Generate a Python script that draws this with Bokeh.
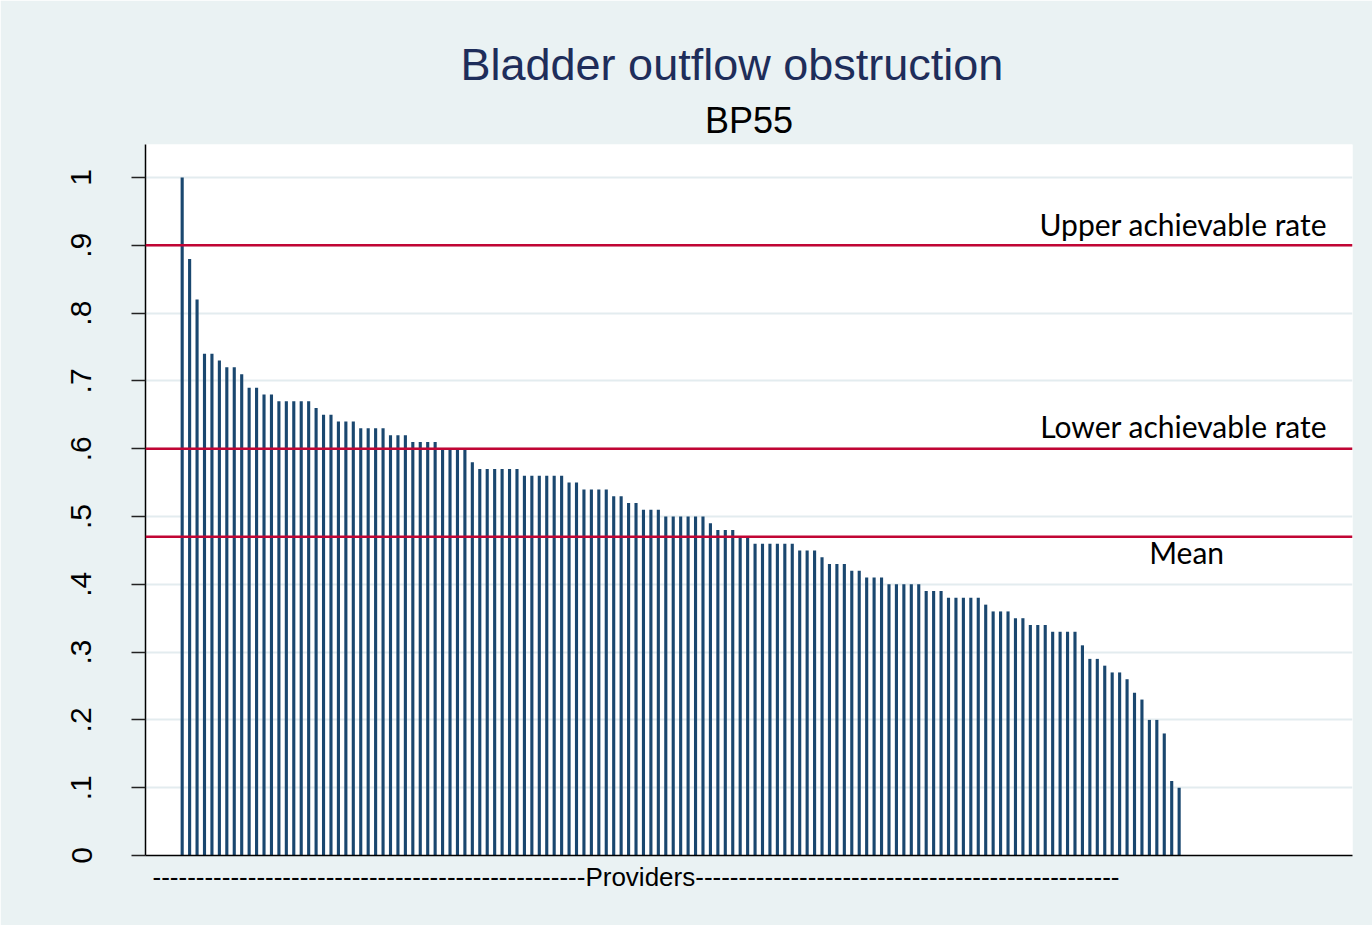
from bokeh.plotting import figure
from bokeh.models import Range1d, FixedTicker, Span, Label, Title
from bokeh.embed import file_html
from bokeh.resources import INLINE

# ---------------- data ----------------
title_text = "Bladder outflow obstruction"
subtitle_text = "BP55"
rates = [
    1.00, 0.88, 0.82, 0.74, 0.74, 0.73, 0.72, 0.72, 0.71, 0.69,
    0.69, 0.68, 0.68, 0.67, 0.67, 0.67, 0.67, 0.67, 0.66, 0.65,
    0.65, 0.64, 0.64, 0.64, 0.63, 0.63, 0.63, 0.63, 0.62, 0.62,
    0.62, 0.61, 0.61, 0.61, 0.61, 0.60, 0.60, 0.60, 0.60, 0.58,
    0.57, 0.57, 0.57, 0.57, 0.57, 0.57, 0.56, 0.56, 0.56, 0.56,
    0.56, 0.56, 0.55, 0.55, 0.54, 0.54, 0.54, 0.54, 0.53, 0.53,
    0.52, 0.52, 0.51, 0.51, 0.51, 0.50, 0.50, 0.50, 0.50, 0.50,
    0.50, 0.49, 0.48, 0.48, 0.48, 0.47, 0.47, 0.46, 0.46, 0.46,
    0.46, 0.46, 0.46, 0.45, 0.45, 0.45, 0.44, 0.43, 0.43, 0.43,
    0.42, 0.42, 0.41, 0.41, 0.41, 0.40, 0.40, 0.40, 0.40, 0.40,
    0.39, 0.39, 0.39, 0.38, 0.38, 0.38, 0.38, 0.38, 0.37, 0.36,
    0.36, 0.36, 0.35, 0.35, 0.34, 0.34, 0.34, 0.33, 0.33, 0.33,
    0.33, 0.31, 0.29, 0.29, 0.28, 0.27, 0.27, 0.26, 0.24, 0.23,
    0.20, 0.20, 0.18, 0.11, 0.10,
]
providers = list(range(1, len(rates) + 1))
y_ticks = [0.0, 0.1, 0.2, 0.3, 0.4, 0.5, 0.6, 0.7, 0.8, 0.9, 1.0]
y_tick_labels = ["0", ".1", ".2", ".3", ".4", ".5", ".6", ".7", ".8", ".9", "1"]
ref_names = ["Upper achievable rate", "Lower achievable rate", "Mean"]
ref_values = [0.90, 0.60, 0.47]
x_label_text = "-" * 50 + "Providers" + "-" * 49

# ---------------- styles ----------------
BG = "#EAF2F3"
BAR = "#1A476F"
RED = "#C10534"
GRID = "#E3ECEF"
FONT = "Liberation Sans"

p = figure(width=1372, height=925, output_backend="svg", toolbar_location=None,
           x_range=Range1d(-3.93, 158.3), y_range=Range1d(0, 1.0487))
p.min_border_left = 145
p.min_border_right = 20
p.min_border_top = 144
p.min_border_bottom = 70
p.background_fill_color = "white"
p.border_fill_color = BG
p.outline_line_color = None

p.vbar(x=providers, top=rates, width=0.42, fill_color=BAR, line_color=None)

# y axis
yax = p.yaxis[0]
yax.ticker = FixedTicker(ticks=y_ticks)
yax.major_label_overrides = {t: l for t, l in zip(y_ticks, y_tick_labels)}
yax.major_label_orientation = "vertical"
yax.major_label_text_font = FONT
yax.major_label_text_font_size = "30px"
yax.major_label_text_color = "black"
yax.major_label_standoff = 40
yax.major_tick_out = 14
yax.major_tick_in = 0
yax.major_tick_line_width = 1.5
yax.major_tick_line_color = "#222222"
yax.minor_tick_line_color = None
yax.axis_line_color = "black"
yax.axis_line_width = 1.5

# x axis: line only
xax = p.xaxis[0]
xax.ticker = FixedTicker(ticks=[])
xax.major_tick_line_color = None
xax.minor_tick_line_color = None
xax.major_tick_out = 0
xax.major_label_standoff = 0
xax.major_label_text_font_size = "0px"
xax.axis_line_color = "black"
xax.axis_line_width = 1.5

p.xgrid.visible = False
p.ygrid.ticker = FixedTicker(ticks=y_ticks[1:])
p.ygrid.grid_line_color = GRID
p.ygrid.grid_line_width = 2

# reference lines
for v in ref_values:
    p.add_layout(Span(location=v, dimension="width", line_color=RED, line_width=2.5))

label_pos = [(154.9, 0.932, "right"), (154.9, 0.634, "right"), (136.0, 0.448, "center")]
for name, (lx, ly, al) in zip(ref_names, label_pos):
    p.add_layout(Label(x=lx, y=ly, text=name, text_align=al, text_baseline="alphabetic",
                       text_font="Lato", text_font_size="30px", text_color="black"))

# main title is the figure's own title (outermost); subtitle added nearer the frame
p.title.text = title_text
p.title.align = "left"
p.title.offset = 315
p.title.text_font = FONT
p.title.text_font_size = "45px"
p.title.text_font_style = "normal"
p.title.text_color = "#1E2D5A"
p.title.standoff = 8
p.add_layout(Title(text=subtitle_text, align="center", text_font=FONT,
                   text_font_size="36px", text_font_style="normal",
                   text_color="black", standoff=8), "above")

# x label (dashed "Providers" line)
p.add_layout(Title(text=x_label_text, align="left", offset=7, text_font=FONT,
                   text_font_size="26px", text_font_style="normal",
                   text_color="black", standoff=9), "below")

open("out.html", "w").write(file_html(p, INLINE))
